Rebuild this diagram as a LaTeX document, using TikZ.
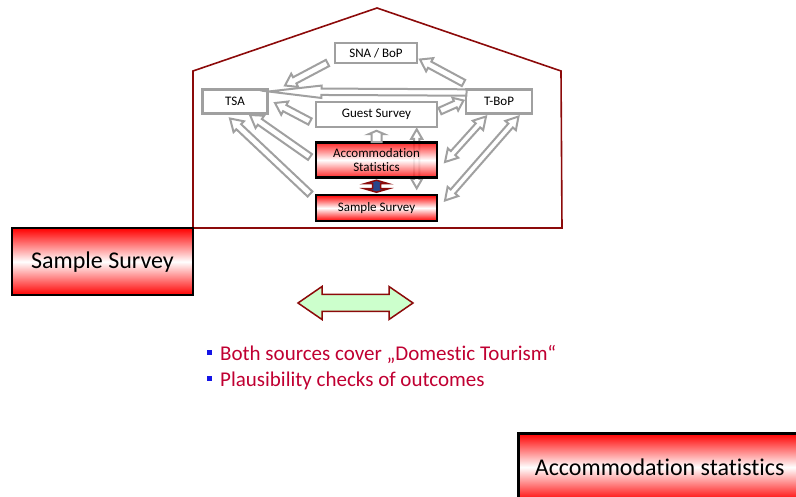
\documentclass[tikz,border=0pt]{standalone}
\usepackage{fontspec}
\setmainfont{Carlito}[Ligatures=NoCommon]
\usepackage{tikz}
\usetikzlibrary{positioning,calc}

\definecolor{houseRed}{RGB}{140,10,10}
\definecolor{linkGray}{RGB}{160,160,160}
\definecolor{pointRed}{RGB}{192,0,50}
\definecolor{paleGreen}{RGB}{204,255,204}
\definecolor{bulletBlue}{RGB}{20,20,230}
\definecolor{linkBlue}{RGB}{40,70,140}

% block arrow: [style]{tail}{tip}{half shaft}{half head}{head length}
\newcommand\blockarrow[6][]{%
  \coordinate (ba-h) at ($(#3)!#6!(#2)$);
  \draw[#1] ($(#2)!#4!90:(#3)$) -- ($(ba-h)!#4!90:(#3)$) -- ($(ba-h)!#5!90:(#3)$) -- (#3)
    -- ($(ba-h)!#5!-90:(#3)$) -- ($(ba-h)!#4!-90:(#3)$) -- ($(#2)!#4!-90:(#3)$) -- cycle;
}
% double block arrow: [style]{end}{end}{half shaft}{half head}{head length}
\newcommand\twowayarrow[6][]{%
  \coordinate (tw-a) at ($(#2)!#6!(#3)$);
  \coordinate (tw-b) at ($(#3)!#6!(#2)$);
  \draw[#1] (#2) -- ($(tw-a)!#5!90:(#3)$) -- ($(tw-a)!#4!90:(#3)$) -- ($(tw-b)!#4!90:(#3)$)
    -- ($(tw-b)!#5!90:(#3)$) -- (#3) -- ($(tw-b)!#5!-90:(#3)$) -- ($(tw-b)!#4!-90:(#3)$)
    -- ($(tw-a)!#4!-90:(#3)$) -- ($(tw-a)!#5!-90:(#3)$) -- cycle;
}

\begin{document}
\begin{tikzpicture}[
  x=1pt, y=-1pt,
  graybox/.style={draw=linkGray, line width=2.5pt, fill=white, inner sep=0pt,
    font=\fontsize{13}{15}\selectfont},
  redbox/.style={draw=black, line width=2.5pt, top color=red, bottom color=red,
    middle color=white, inner sep=0pt, align=center, font=\fontsize{13}{14}\selectfont},
  bigbox/.style={redbox, font=\fontsize{24}{28}\selectfont},
  grayarrow/.style={draw=linkGray, line width=2pt, fill=white, line join=miter},
  bullettext/.style={font=\fontsize{21}{25}\selectfont, text=pointRed, inner sep=0pt},
  sqbullet/.style={fill=bulletBlue, minimum size=5.5pt, inner sep=0pt}
]
\useasboundingbox (0,0) rectangle (796,497);

% House
\draw[houseRed, line width=1.6pt] (193,228) -- (193,71) -- (377,8) -- (561,71) -- (562,228) -- cycle;

% Boxes inside the house
\node[graybox, minimum width=82pt, minimum height=20pt] (sna) at (376,53) {SNA / BoP};
\node[graybox, minimum width=65pt, minimum height=24pt] (tsa) at (235,101.5) {TSA};
\node[graybox, minimum width=66pt, minimum height=24pt] (tbop) at (499,101.5) {T-BoP};
\node[graybox, minimum width=121pt, minimum height=25pt] (guest) at (376.5,114.5) {Guest Survey};

% Arrows between them
\coordinate (a1s) at (327.5,63);    \coordinate (a1e) at (285,85.5);
\coordinate (a2s) at (463.5,83);    \coordinate (a2e) at (420,59.5);
\coordinate (a3s) at (466.5,92.5);  \coordinate (a3e) at (268.5,91.5);
\coordinate (a4s) at (440,111);     \coordinate (a4e) at (463.5,100.5);
\coordinate (a5s) at (310,121.5);   \coordinate (a5e) at (275,103);
\coordinate (a6s) at (310,157);     \coordinate (a6e) at (250,115);
\coordinate (a7s) at (310,194);     \coordinate (a7e) at (230,118.5);
\coordinate (d1s) at (445,162);     \coordinate (d1e) at (486,116.5);
\coordinate (d2s) at (445,200.5);   \coordinate (d2e) at (518.5,116.5);
\coordinate (d3s) at (416.7,129.3); \coordinate (d3e) at (416.7,188.3);

\blockarrow[grayarrow]{a1s}{a1e}{3.5pt}{7.5pt}{11pt}
\blockarrow[grayarrow]{a2s}{a2e}{3.5pt}{7.5pt}{11pt}
\blockarrow[grayarrow]{a3s}{a3e}{3.2pt}{6.2pt}{53pt}
\blockarrow[grayarrow]{a4s}{a4e}{3.5pt}{7pt}{9pt}
\blockarrow[grayarrow]{a5s}{a5e}{3.5pt}{7.5pt}{11pt}
\blockarrow[grayarrow]{a6s}{a6e}{3.5pt}{7.5pt}{12pt}
\blockarrow[grayarrow]{a7s}{a7e}{3.5pt}{7.5pt}{12pt}
\twowayarrow[grayarrow]{d1s}{d1e}{3pt}{7pt}{12pt}
\twowayarrow[grayarrow]{d2s}{d2e}{3pt}{7pt}{12pt}
\twowayarrow[grayarrow]{d3s}{d3e}{2.7pt}{5.5pt}{9.5pt}

% Red sources
\node[redbox, fill opacity=0.85, text opacity=1, minimum width=121pt, minimum height=35pt,
  below=13pt of guest] (accst) {Accommodation\\Statistics};
\node[redbox, minimum width=121pt, minimum height=26pt, below=15pt of accst] (smpl) {Sample Survey};

\coordinate (up1) at ($(accst.north)+(0,1)$);
\coordinate (up2) at ($(guest.south)+(0,2.5)$);
\blockarrow[grayarrow]{up1}{up2}{5pt}{8pt}{3.5pt}

\coordinate (lk1) at ($(accst.south)+(0,1.5)$);
\coordinate (lk2) at ($(smpl.north)+(0,-1.5)$);
\twowayarrow[draw=houseRed, fill=linkBlue, line width=1.5pt]{lk1}{lk2}{4pt}{12pt}{3.5pt}

% Outside the house
\node[bigbox, minimum width=181pt, minimum height=67pt] (bigsmpl) at (102.5,261.7) {Sample Survey};
\node[bigbox, minimum width=283pt, minimum height=68pt, anchor=north west] (bigacc) at (517,432) {Accommodation statistics};

\coordinate (gl) at (298,303);
\coordinate (gr) at (413,303);
\twowayarrow[draw=houseRed, fill=paleGreen, line width=1.5pt]{gl}{gr}{8.5pt}{16.5pt}{24pt}

% Points
\node[bullettext, anchor=base west] (pt1) at (220,361) {Both sources cover „Domestic Tourism“};
\node[bullettext, anchor=base west] (pt2) at (220,387) {Plausibility checks of outcomes};
\node[sqbullet] (q1) at ($(pt1.base west)+(-10.5,-8.5)$) {};
\node[sqbullet] (q2) at ($(pt2.base west)+(-10.5,-8.5)$) {};

\end{tikzpicture}
\end{document}
